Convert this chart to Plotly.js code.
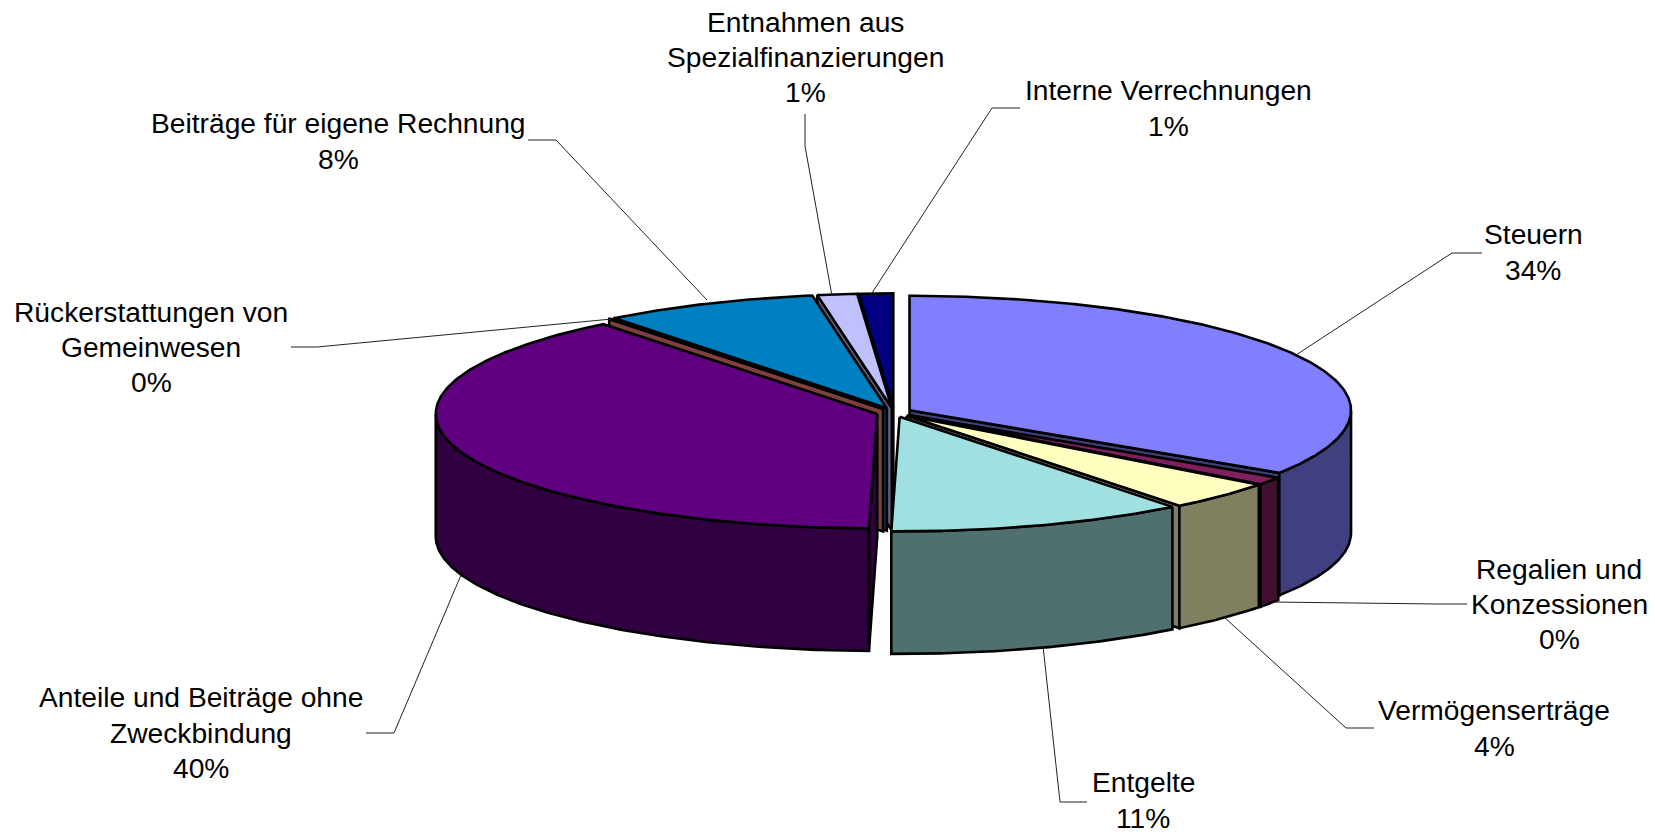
<!DOCTYPE html>
<html><head><meta charset="utf-8">
<script src="https://cdn.plot.ly/plotly-3.0.1.min.js"></script>
<style>html,body{margin:0;padding:0;background:#fff}#c{width:1655px;height:834px}</style></head>
<body><div id="c"></div>
<script>
// Data
const categories = ["Steuern","Regalien und<br>Konzessionen","Vermögenserträge","Entgelte","Anteile und Beiträge ohne<br>Zweckbindung","Rückerstattungen von<br>Gemeinwesen","Beiträge für eigene Rechnung","Entnahmen aus<br>Spezialfinanzierungen","Interne Verrechnungen"];
const values = [34.2,1.1,4.1,10.9,39.05,0.08,7.87,1.45,1.25];
const percentLabels = ["34%","0%","4%","11%","40%","0%","8%","1%","1%"];
const topColors = ["#8080FF","#802060","#FFFFC0","#A0E0E0","#600080","#804040","#0080C0","#C0C0FF","#000080"];
const sideColors = ["#404080","#401030","#808060","#507070","#300040","#804040","#004060","#606080","#000040"];
const drawOrder = [8,7,6,5,0,1,2,4,3];

// Layout (pixels)
const CX=894, CY=412.5, RX=441.5, RY=114.5, H=122.5, EXPLODE=0.04, LINE_STEP=35.3;
const labelX=[1533,1559,1494,1143,200.5,151,338,805,1168];
const labelY=[252,604,728,800,732.5,347,141,57,108];
const leaders=[
 [[1482,253],[1452,253],[1296,355]],
 [[1467,604],[1437,604],[1272,602]],
 [[1374,728],[1346,728],[1224,617]],
 [[1087,802],[1060,802],[1043,646]],
 [[366,733],[394,733],[461,575]],
 [[291,347],[317,347],[612,319]],
 [[528,140],[556,140],[707,300]],
 [[805,114],[805,146],[832,296]],
 [[1020,108],[992,108],[870,296]]
];

const total=values.reduce((a,b)=>a+b,0);
const rad=d=>d*Math.PI/180;
let acc=0;
const slices=values.map((v,i)=>{
  const a0=acc/total*360; acc+=v; const a1=acc/total*360;
  const m=rad((a0+a1)/2);
  return {i,a0,a1,ax:CX+EXPLODE*RX*Math.sin(m),ay:CY-EXPLODE*RY*Math.cos(m)};
});
function pt(s,a,dz){return [s.ax+RX*Math.sin(rad(a)),s.ay-RY*Math.cos(rad(a))+(dz||0)];}
function arc(s,a0,a1,dz){
  const out=[],n=Math.max(2,Math.ceil((a1-a0)/0.5)+1);
  for(let k=0;k<n;k++)out.push(pt(s,a0+(a1-a0)*k/(n-1),dz));
  return out;
}
function poly(points,color){
  const p=points.concat([points[0]]);
  return {type:"scatter",mode:"lines",x:p.map(q=>q[0]),y:p.map(q=>q[1]),fill:"toself",fillcolor:color,
    line:{color:"#000",width:2.6,shape:"linear"},hoverinfo:"skip",showlegend:false};
}
const traces=[];
drawOrder.forEach(idx=>{
  const s=slices[idx], side=sideColors[idx];
  // radial walls: only those facing the viewer
  const wall=a=>{const e=pt(s,a);return [[s.ax,s.ay],e,[e[0],e[1]+H],[s.ax,s.ay+H]];};
  if(Math.sin(rad(s.a1))>0) traces.push(poly(wall(s.a1),side));
  if(Math.sin(rad(s.a0))<0) traces.push(poly(wall(s.a0),side));
  // outer rim: only the front half shows
  const f0=Math.max(s.a0,90), f1=Math.min(s.a1,270);
  if(f1>f0){
    const upper=arc(s,f0,f1,0), lower=arc(s,f0,f1,H).reverse();
    traces.push(poly(upper.concat(lower),side));
  }
  // top face
  traces.push(poly([[s.ax,s.ay]].concat(arc(s,s.a0,s.a1,0)),topColors[idx]));
});

const annotations=[];
categories.forEach((c,i)=>{
  const lines=c.split("<br>").concat([percentLabels[i]]);
  lines.forEach((t,k)=>annotations.push({
    x:labelX[i],y:labelY[i]+(k-(lines.length-1)/2)*LINE_STEP,xref:"x",yref:"y",text:t,showarrow:false,
    xanchor:"center",yanchor:"middle",align:"center",
    font:{family:"Liberation Sans, Arial, sans-serif",size:28.2,color:"#000"}
  }));
});
const shapes=leaders.map(l=>({type:"path",xref:"x",yref:"y",
  path:"M"+l.map(p=>p[0]+" "+p[1]).join(" L"),line:{color:"#222",width:1}}));

Plotly.newPlot("c",traces,{
  width:1655,height:834,margin:{l:0,r:0,t:0,b:0},paper_bgcolor:"#fff",plot_bgcolor:"#fff",showlegend:false,
  xaxis:{range:[0,1655],visible:false,fixedrange:true},
  yaxis:{range:[834,0],visible:false,fixedrange:true},
  annotations,shapes
},{displayModeBar:false,staticPlot:true});
</script></body></html>
